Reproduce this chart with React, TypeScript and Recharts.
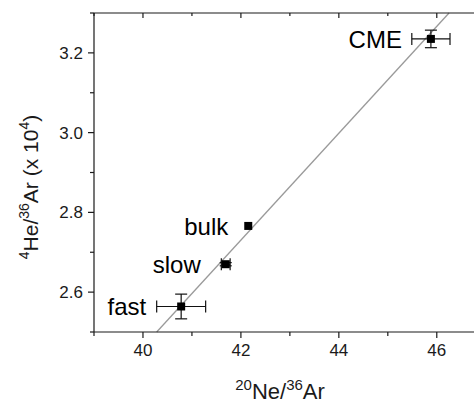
import React from "react";
import {
  ComposedChart,
  Scatter,
  XAxis,
  YAxis,
  ErrorBar,
  ReferenceLine,
} from "recharts";

// solar wind regimes
const REGIMES = ["fast", "slow", "bulk", "CME"];
const NE_AR = [40.78, 41.69, 42.15, 45.88];
const HE_AR = [2.564, 2.67, 2.766, 3.235];
const NE_ERR = [0.5, 0.09, 0, 0.39];
const HE_ERR = [0.031, 0.004, 0, 0.022];

const X_TICKS = [39, 40, 41, 42, 43, 44, 45, 46];
const Y_TICKS = [2.5, 2.6, 2.7, 2.8, 2.9, 3.0, 3.1, 3.2, 3.3];

// linear fit, end points
const FIT_NE = [40.28, 46.25];
const FIT_HE = [2.5, 3.3];

// how far left of the marker each label ends (px)
const LABEL_GAP = [35, 25, 20, 29];

const FONT = "'Liberation Sans', Arial, sans-serif";
const INK = "#1a1a1a";

const data = REGIMES.map((name, i) => ({
  name,
  x: NE_AR[i],
  y: HE_AR[i],
  xErr: NE_ERR[i],
  yErr: HE_ERR[i],
  gap: LABEL_GAP[i],
}));

const isMajorX = (v: number) => Math.round(v) % 2 === 0;
const isMajorY = (v: number) => Math.round(v * 10) % 2 === 0;

function BottomTick({ x, y, payload }: any) {
  const major = isMajorX(payload.value);
  return (
    <g>
      <line x1={x} x2={x} y1={y} y2={y + (major ? 6 : 4)} stroke={INK} strokeWidth={1.2} />
      {major && (
        <text x={x} y={y + 24} textAnchor="middle" fontSize={17} fontFamily={FONT} fill={INK}>
          {payload.value}
        </text>
      )}
    </g>
  );
}

function TopTick({ x, y, payload }: any) {
  const major = isMajorX(payload.value);
  return <line x1={x} x2={x} y1={y} y2={y + (major ? 5 : 3)} stroke={INK} strokeWidth={1.2} />;
}

function LeftTick({ x, y, payload }: any) {
  const major = isMajorY(payload.value);
  return (
    <g>
      <line x1={x - (major ? 6 : 4)} x2={x} y1={y} y2={y} stroke={INK} strokeWidth={1.2} />
      {major && (
        <text x={x - 11} y={y + 6} textAnchor="end" fontSize={17} fontFamily={FONT} fill={INK}>
          {payload.value.toFixed(1)}
        </text>
      )}
    </g>
  );
}

function XTitle() {
  return (
    <text x={280} y={399} textAnchor="middle" fontSize={22} fontFamily={FONT} fill={INK}>
      <tspan fontSize={15} dy={-9}>20</tspan>
      <tspan dy={9}>Ne/</tspan>
      <tspan fontSize={15} dy={-9}>36</tspan>
      <tspan dy={9}>Ar</tspan>
    </text>
  );
}

function YTitle() {
  return (
    <text
      x={38}
      y={187}
      transform="rotate(-90, 38, 187)"
      textAnchor="middle"
      fontSize={21}
      fontFamily={FONT}
      fill={INK}
    >
      <tspan fontSize={14} dy={-9}>4</tspan>
      <tspan dy={9}>He/</tspan>
      <tspan fontSize={14} dy={-9}>36</tspan>
      <tspan dy={9}>Ar (x 10</tspan>
      <tspan fontSize={14} dy={-9}>4</tspan>
      <tspan dy={9}>)</tspan>
    </text>
  );
}

function PointShape(props: any) {
  const { cx, cy, payload } = props;
  return (
    <g>
      <rect x={cx - 4} y={cy - 4} width={8} height={8} fill="#000" />
      <text
        x={cx - payload.gap}
        y={cy + 9}
        textAnchor="end"
        fontSize={24}
        fontFamily={FONT}
        fill="#000"
      >
        {payload.name}
      </text>
    </g>
  );
}

export default function App() {
  return (
    <div style={{ position: "absolute", left: 0, top: 0, background: "#fff" }}>
      <ComposedChart
        width={474}
        height={404}
        data={data}
        margin={{ top: 0, right: 0, bottom: 0, left: 0 }}
      >
        <XAxis
          xAxisId="top"
          orientation="top"
          type="number"
          dataKey="x"
          domain={[39, 46.76]}
          ticks={X_TICKS}
          height={13}
          tickSize={0}
          tickMargin={0}
          tick={<TopTick />}
          axisLine={{ stroke: INK, strokeWidth: 1.2 }}
          tickLine={false}
          allowDataOverflow
        />
        <XAxis
          type="number"
          dataKey="x"
          domain={[39, 46.76]}
          ticks={X_TICKS}
          height={72}
          tickSize={0}
          tickMargin={0}
          tick={<BottomTick />}
          axisLine={{ stroke: INK, strokeWidth: 1.2 }}
          tickLine={false}
          allowDataOverflow
          label={{ content: () => <XTitle /> }}
        />
        <YAxis
          type="number"
          dataKey="y"
          domain={[2.5, 3.3]}
          ticks={Y_TICKS}
          width={94}
          tickSize={0}
          tickMargin={0}
          tick={<LeftTick />}
          axisLine={{ stroke: INK, strokeWidth: 1.2 }}
          tickLine={false}
          allowDataOverflow
          label={{ content: () => <YTitle /> }}
        />
        <ReferenceLine
          segment={[
            { x: FIT_NE[0], y: FIT_HE[0] },
            { x: FIT_NE[1], y: FIT_HE[1] },
          ]}
          stroke="#9a9a9a"
          strokeWidth={1.3}
        />
        <Scatter dataKey="y" shape={<PointShape />} isAnimationActive={false}>
          <ErrorBar dataKey="xErr" direction="x" width={6} stroke="#111" strokeWidth={1.2} />
          <ErrorBar dataKey="yErr" direction="y" width={6} stroke="#111" strokeWidth={1.2} />
        </Scatter>
      </ComposedChart>
    </div>
  );
}
